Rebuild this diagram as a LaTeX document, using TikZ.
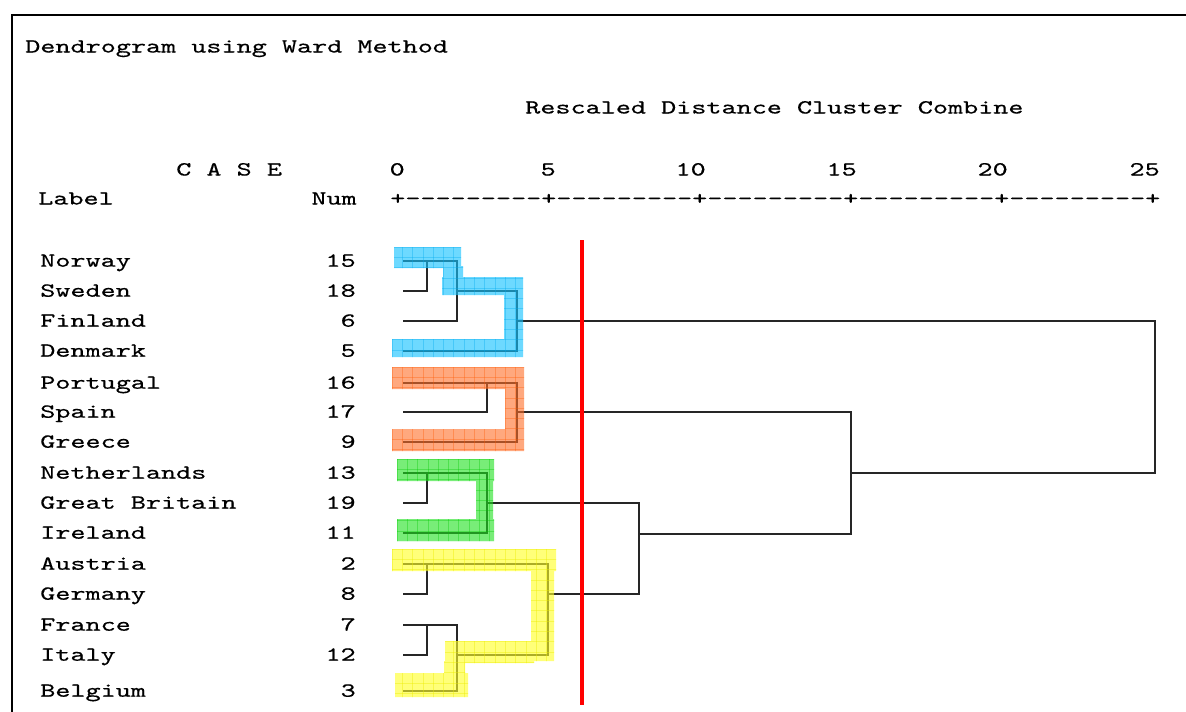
\documentclass[tikz,border=0pt]{standalone}
\usepackage{fontspec}
\newfontfamily\dmonofam[FakeStretch=1.438, FakeBold=0.45]{lmmono10-regular.otf}
\newcommand\dmono{\fontsize{15pt}{17pt}\selectfont\dmonofam}
\newcommand\hy{-\kern0pt}
\newcommand\nineh{\hy\hy\hy\hy\hy\hy\hy\hy\hy}
\definecolor{cyanF}{RGB}{20,195,255}
\definecolor{cyanG}{RGB}{0,170,240}
\definecolor{oranF}{RGB}{255,110,40}
\definecolor{oranG}{RGB}{255,90,0}
\definecolor{grenF}{RGB}{30,225,30}
\definecolor{grenG}{RGB}{0,200,0}
\definecolor{yelF}{RGB}{255,255,40}
\definecolor{yelG}{RGB}{235,235,0}
\tikzset{
  dline/.style={line width=1.1pt, black!85, line join=miter},
  lbl/.style={anchor=base west, inner sep=0pt, font=\dmono},
  numb/.style={anchor=base east, inner sep=0pt, font=\dmono},
  frameline/.style={line width=2pt, black, line join=miter},
}
\newcommand\joinp[3]{\draw[dline] (#1) -- (#1 -| #3) -- (#2 -| #3) -- (#2);}
\begin{document}
\begin{tikzpicture}[x=0.75pt,y=-0.75pt]
\useasboundingbox (0,0) rectangle (1186,711);
\fill[white] (0,0) rectangle (1186,711);
% frame
\coordinate (fTR) at (1190,15);
\coordinate (fTL) at (12,15);
\coordinate (fBL) at (12,715);
\draw[frameline] (fTR) -- (fTL) -- (fBL);
% header texts
\node[lbl] (title) at (25,52.5) {Dendrogram using Ward Method};
\node[lbl] (rescaled) at (525,113.5) {Rescaled Distance Cluster Combine};
\node[lbl] (case) at (176,175.5) {C A S E};
\node[numb] (t0) at (405,175.5) {0};
\node[numb] (t5) at (556,175.5) {5};
\node[numb] (t10) at (706,175.5) {10};
\node[numb] (t15) at (857,175.5) {15};
\node[numb] (t20) at (1008,175.5) {20};
\node[numb] (t25) at (1160,175.5) {25};
\node[lbl] (labelhd) at (38,204.5) {Label};
\node[numb] (numhd) at (357,204.5) {Num};
\node[lbl] (axis) at (390,204.5) {+\nineh+\nineh+\nineh+\nineh+\nineh+};
% rows
\foreach \yy/\nm/\nn/\id in {261/Norway/15/nor, 291/Sweden/18/swe, 321/Finland/6/fin, 351/Denmark/5/den,
   383/Portugal/16/por, 412/Spain/17/spa, 442/Greece/9/gre, 473/Netherlands/13/net,
   503/Great Britain/19/gb, 533/Ireland/11/ire, 564/Austria/2/aus, 594/Germany/8/ger,
   625/France/7/fra, 655/Italy/12/ita, 691/Belgium/3/bel}{
  \node[lbl] (t\id) at (40,\yy+5.7) {\nm};
  \node[numb] (n\id) at (356,\yy+5.7) {\nn};
  \coordinate (L\id) at (403,\yy);
}
% join points
\coordinate (JNS) at (427,261);
\coordinate (JNSF) at (457,291);
\coordinate (JNord) at (517,321);
\coordinate (JPS) at (487,383);
\coordinate (JSouth) at (517,412);
\coordinate (JNG) at (427,473);
\coordinate (JGreen) at (487,503);
\coordinate (JAG) at (427,564);
\coordinate (JFI) at (427,625);
\coordinate (JFIB) at (457,655);
\coordinate (JYel) at (548,594);
\coordinate (JGY) at (639,534);
\coordinate (JSGY) at (851,473);
\coordinate (JAll) at (1155,397);
% dendrogram
\joinp{Lnor}{Lswe}{JNS}
\joinp{JNS}{Lfin}{JNSF}
\joinp{JNSF}{Lden}{JNord}
\joinp{Lpor}{Lspa}{JPS}
\joinp{JPS}{Lgre}{JSouth}
\joinp{Lnet}{Lgb}{JNG}
\joinp{JNG}{Lire}{JGreen}
\joinp{Laus}{Lger}{JAG}
\joinp{Lfra}{Lita}{JFI}
\joinp{JFI}{Lbel}{JFIB}
\joinp{JAG}{JFIB}{JYel}
\joinp{JGreen}{JYel}{JGY}
\joinp{JSouth}{JGY}{JSGY}
\joinp{JNord}{JSGY}{JAll}
% highlights
\begin{scope}
  \clip (394,247) rectangle (461,268) (443,266) rectangle (463,281)
        (442,277) rectangle (523,295) (504,277) rectangle (523,357)
        (392,339) rectangle (523,357);
  \fill[cyanF, opacity=0.62] (385,240) rectangle (530,365);
  \foreach \g in {0,...,14} {
    \draw[cyanG, opacity=0.35, line width=0.5pt] ({392+10.3*\g},240) -- ++(0,125);
    \draw[cyanG, opacity=0.35, line width=0.5pt] (385,{247+10.3*\g}) -- ++(145,0);
  }
\end{scope}
\begin{scope}
  \clip (392,367) rectangle (524,389) (505,387) rectangle (524,431)
        (392,429) rectangle (524,451);
  \fill[oranF, opacity=0.6] (385,360) rectangle (530,455);
  \foreach \g in {0,...,14} {
    \draw[oranG, opacity=0.35, line width=0.5pt] ({392+10.3*\g},360) -- ++(0,95);
    \draw[oranG, opacity=0.35, line width=0.5pt] (385,{367+10.3*\g}) -- ++(145,0);
  }
\end{scope}
\begin{scope}
  \clip (397,459) rectangle (494,481) (476,480) rectangle (493,524)
        (397,519) rectangle (494,541);
  \fill[grenF, opacity=0.6] (390,455) rectangle (500,545);
  \foreach \g in {0,...,12} {
    \draw[grenG, opacity=0.35, line width=0.5pt] ({397+10.3*\g},455) -- ++(0,90);
    \draw[grenG, opacity=0.35, line width=0.5pt] (390,{459+10.3*\g}) -- ++(110,0);
  }
\end{scope}
\begin{scope}
  \clip (392,549) rectangle (556,571) (531,567) rectangle (554,661)
        (445,641) rectangle (534,663) (444,661) rectangle (465,673)
        (395,673) rectangle (468,697);
  \fill[yelF, opacity=0.62] (385,545) rectangle (560,700);
  \foreach \g in {0,...,17} {
    \draw[yelG, opacity=0.4, line width=0.5pt] ({392+10.3*\g},545) -- ++(0,155);
    \draw[yelG, opacity=0.4, line width=0.5pt] (385,{549+10.3*\g}) -- ++(175,0);
  }
\end{scope}
% cut line
\coordinate (cutTop) at (582,240);
\coordinate (cutBot) at (582,705);
\draw[red, line width=3pt] (cutTop) -- (cutBot);
\end{tikzpicture}
\end{document}
